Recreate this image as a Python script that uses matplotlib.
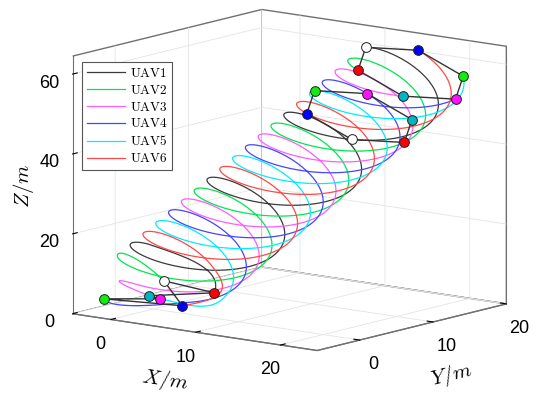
import numpy as np
import matplotlib.pyplot as plt
from mpl_toolkits.mplot3d import proj3d

plt.rcParams['mathtext.fontset'] = 'cm'
plt.rcParams['font.family'] = ['Liberation Sans', 'DejaVu Sans']
plt.rcParams['grid.color'] = '#e4e4e4'
plt.rcParams['grid.linewidth'] = 0.6

# Назви БПЛА та кольори
names = ['UAV1', 'UAV2', 'UAV3', 'UAV4', 'UAV5', 'UAV6']
line_colors = ['#3a3a3a', '#00e650', '#ff5cff', '#4545ff', '#00ecff', '#ff4848']
dot_colors = ['#ffffff', '#10ee10', '#ff10ff', '#0000ff', '#00b4c2', '#ff0000']

# Точки старту (м), маркери
start_x = [-0.5, -3.1, 1.0, 4.7, -0.7, 3.2]
start_y = [2.0, -3.2, -0.3, -1.5, 0.2, 4.6]
start_z = [6.0, 3.0, 3.0, 3.0, 3.0, 3.0]

# З якого маркера стартує кожна траєкторія
path_start = [5, 0, 2, 1, 4, 3]
# Фаза кожної траєкторії на спіралі (у кроках по 60°)
path_slot = [0, 5, 4, 3, 2, 1]
# Місце кожного маркера у шестикутнику строю
mark_slot = [0, 2, 3, 1, 4, 5]

# Параметри спіралі строю
center_start = [2.3, -3.2, 5.9]
center_end = [17.0, 15.4, 57.5]
radius = 7.1
turns = 3.4
plane_u = [-0.708, -0.042, 0.707]
plane_v = [0.703, -0.145, 0.696]
blend = 0.09
snap_times = [1.0, 1.0 - 2.0 / (3 * 3.4)]

x_ticks = [0, 10, 20]
y_ticks = [0, 10, 20]
z_ticks = [0, 20, 40, 60]


def formation(slot_k, t):
    c0 = np.array(center_start)
    c1 = np.array(center_end)
    c = c0 + (c1 - c0) * t[:, None]
    ang = 2 * np.pi * turns * (1 - t) + slot_k * np.pi / 3
    return c + radius * (np.cos(ang)[:, None] * np.array(plane_u)
                         + np.sin(ang)[:, None] * np.array(plane_v))


def trajectory(k, t):
    p = formation(path_slot[k], t)
    j = path_start[k]
    s = np.array([start_x[j], start_y[j], start_z[j]])
    p0 = formation(path_slot[k], np.array([0.0]))[0]
    u = np.clip(t / blend, 0, 1)
    w = 1 - u * u * (3 - 2 * u)
    return p + (s - p0) * w[:, None]


fig = plt.figure(figsize=(5.5, 4), dpi=100)
ax = fig.add_axes([0.1, 0.1, 0.8, 1.1], projection='3d', proj_type='ortho')
ax.computed_zorder = False
ax.view_init(elev=11.1, azim=-52)
ax.set_box_aspect((1, 0.99, 0.846))

t = np.linspace(0, 1, 1600)
handles = []
for k in range(6):
    p = trajectory(k, t)
    h, = ax.plot(p[:, 0], p[:, 1], p[:, 2], color=line_colors[k], lw=0.9,
                 label=r'$\mathrm{%s}$' % names[k])
    handles.append(h)

# Контури строю
order = [0, 3, 1, 2, 4, 5, 0]
for ts in snap_times:
    pts = np.array([formation(mark_slot[k], np.array([ts]))[0] for k in order])
    ax.plot(pts[:, 0], pts[:, 1], pts[:, 2], color='#333333', lw=1.0)
pts = np.array([[start_x[k], start_y[k], start_z[k]] for k in order])
ax.plot(pts[:, 0], pts[:, 1], pts[:, 2], color='#333333', lw=1.0)

for k in range(6):
    for ts in snap_times:
        q = formation(mark_slot[k], np.array([ts]))[0]
        ax.plot([q[0]], [q[1]], [q[2]], 'o', ms=7, mfc=dot_colors[k],
                mec='#222222', mew=0.7)
    ax.plot([start_x[k]], [start_y[k]], [start_z[k]], 'o', ms=7,
            mfc=dot_colors[k], mec='#222222', mew=0.7)

ax.set_xlim(-4.5, 24.3)
ax.set_ylim(-5.8, 20)
ax.set_zlim(0, 64.5)
ax.set_xticks(x_ticks)
ax.set_yticks(y_ticks)
ax.set_zticks(z_ticks)
ax.tick_params(labelsize=13, pad=2)
ax.zaxis.set_ticks_position('lower')
ax.zaxis.set_label_position('lower')
ax.set_xlabel(r'$X/m$', fontsize=15, labelpad=8)
ax.set_ylabel(r'$Y/m$', fontsize=15, labelpad=9)
ax.set_zlabel(r'$Z/m$', fontsize=15, labelpad=0)

for axis in (ax.xaxis, ax.yaxis, ax.zaxis):
    axis.set_pane_color((1, 1, 1, 1))
    axis.pane.set_edgecolor('#707070')
    axis.line.set_color('#707070')
    axis._axinfo['tick']['inward_factor'] = 0.0
    axis._axinfo['tick']['outward_factor'] = 0.3

# Підгонка положення коробки до цільових пікселів
corners = np.array([[x, y, z] for x in ax.get_xlim() for y in ax.get_ylim()
                    for z in ax.get_zlim()])
W, H = fig.get_size_inches() * fig.dpi
for _ in range(2):
    fig.canvas.draw()
    xs, ys, _z = proj3d.proj_transform(corners[:, 0], corners[:, 1],
                                       corners[:, 2], ax.get_proj())
    d = ax.transData.transform(np.column_stack([xs, ys]))
    bb = ax.get_position()
    L, B, S = bb.x0 * W, bb.y0 * H, bb.width * W
    sc = 0.5 * (435 / np.ptp(d[:, 0]) + 340 / np.ptp(d[:, 1]))
    cx, cy = d[:, 0].mean(), d[:, 1].mean()
    tx, ty = (72 + 507) / 2, 400 - (10 + 350) / 2
    L2 = tx - sc * (cx - L)
    B2 = ty - sc * (cy - B)
    S2 = S * sc
    ax.set_position([L2 / W, B2 / H, S2 / W, S2 / H])

leg = fig.legend(handles=handles, loc='upper left',
                 bbox_to_anchor=(82 / 550, 1 - 62 / 400), fontsize=9.5,
                 fancybox=False, edgecolor='#555555', framealpha=1,
                 handlelength=2.9, handletextpad=0.35, labelspacing=0.3,
                 borderaxespad=0, borderpad=0.35)
leg.get_frame().set_linewidth(0.8)

fig.savefig('out.png', dpi=100)
